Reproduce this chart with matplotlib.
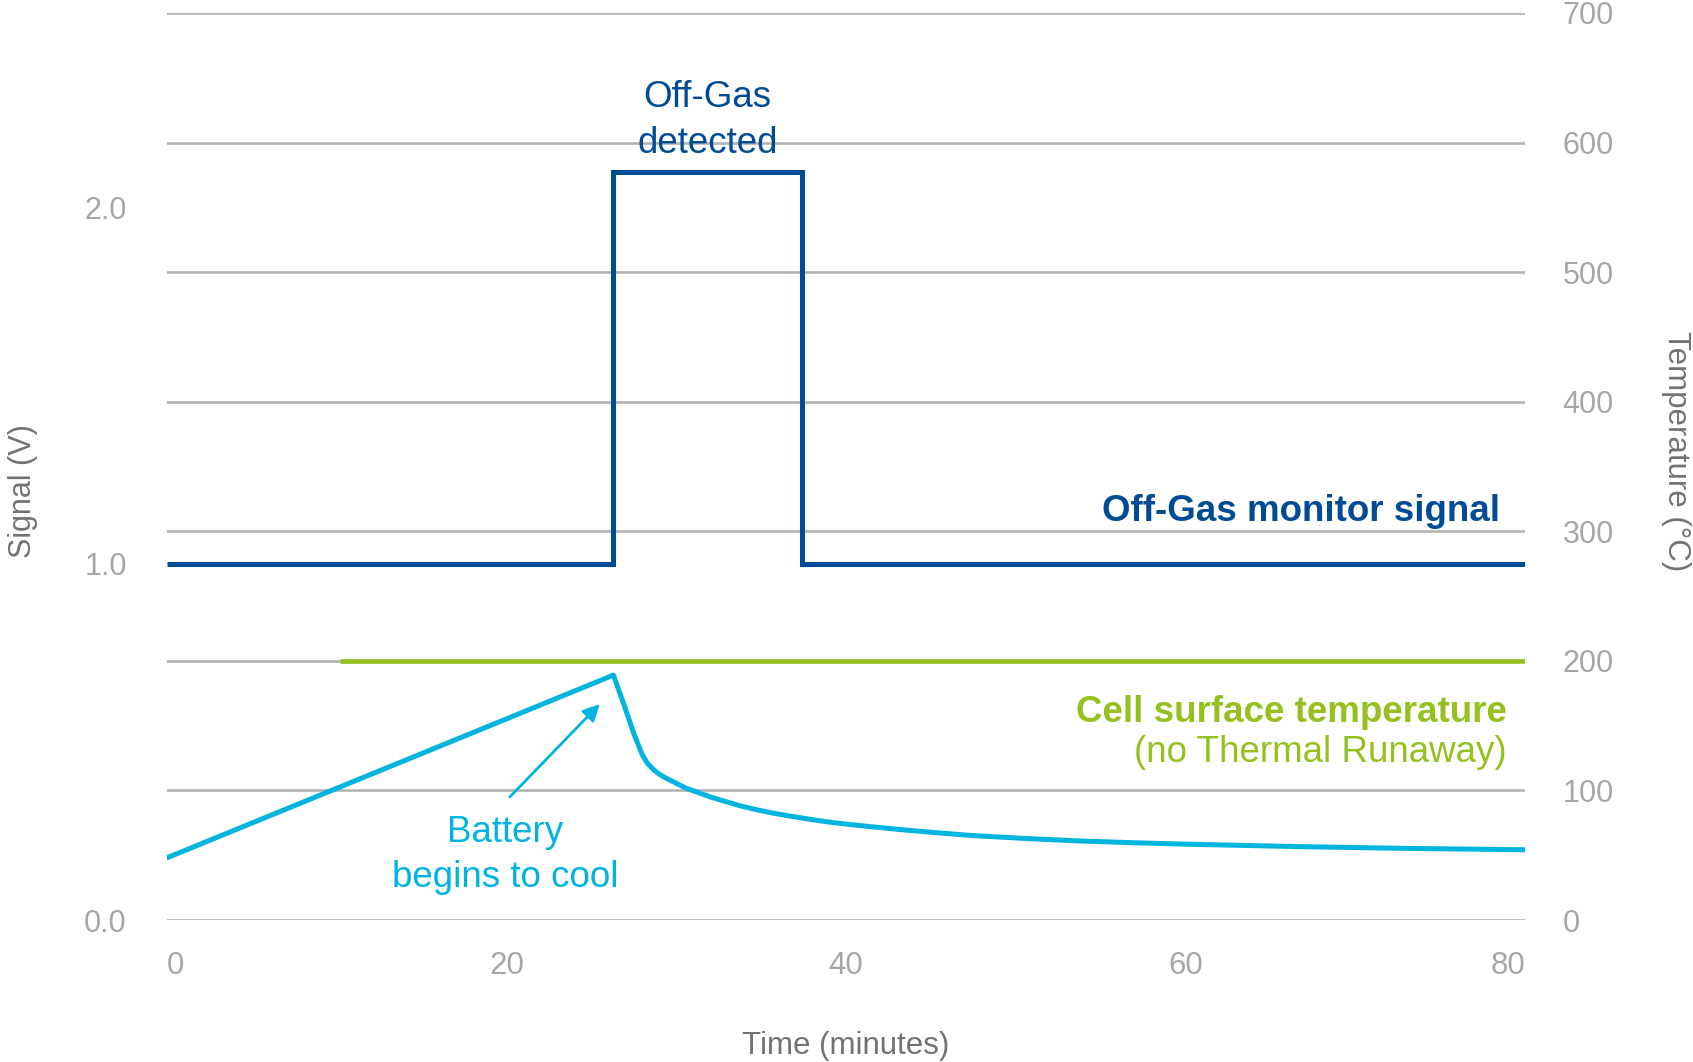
import numpy as np
import matplotlib.pyplot as plt

plt.rcParams['font.family'] = ['Liberation Sans', 'DejaVu Sans']

# Off-gas monitor signal (V), step trace
signal_time = [0, 26.3, 37.4, 80]
signal_volts = [1.0, 2.1, 1.0, 1.0]

# Cell surface temperature (no thermal runaway), degC
surface_time = [10.2, 80]
surface_temp = [200, 200]

# Battery temperature, degC
battery_time = [0, 26.3, 26.9, 27.5, 28.0, 28.3, 28.65, 29.0, 29.4, 30.6,
                32.0, 33.8, 34.7, 35.7, 36.7, 37.7, 38.6, 39.6, 41.4, 43.2,
                45.3, 47.4, 50.6, 53.8, 57.0, 60.1, 66.5, 72.8, 80]
battery_temp = [48, 189, 167, 144, 127.5, 121, 116.2, 112.5, 109.5, 101.6,
                95, 88, 85.2, 82.5, 80.2, 78.1, 76.3, 74.6, 72.1, 69.8,
                67.4, 65.2, 62.9, 61, 59.6, 58.5, 56.7, 55.3, 54.2]

x_ticks = [0, 20, 40, 60, 80]
signal_ticks = [0.0, 1.0, 2.0]
temp_ticks = [0, 100, 200, 300, 400, 500, 600, 700]

BLUE = '#004B93'
CYAN = '#00B4E0'
GREEN = '#95C11F'
GRID = '#B3B3B3'
TICK = '#A6A6A6'
LABEL = '#767171'

fig = plt.figure(figsize=(16.93, 10.62), dpi=100)
ax = fig.add_axes([0.0986, 0.1337, 0.8022, 0.8541])
ax2 = ax.twinx()

# signal axis on top so the blue trace covers the grid
ax.set_zorder(ax2.get_zorder() + 1)
ax.patch.set_visible(False)

ax.plot(signal_time, signal_volts, drawstyle='steps-post', color=BLUE,
        lw=3.6, solid_joinstyle='miter', solid_capstyle='butt')
ax2.plot(surface_time, surface_temp, color=GREEN, lw=3.4,
         solid_capstyle='butt', zorder=3)
ax2.plot(battery_time, battery_temp, color=CYAN, lw=3.6,
         solid_joinstyle='round', zorder=3)

ax.set_xlim(0, 80)
ax.set_ylim(0, 2.545)
ax2.set_ylim(0, 700)

# grid from temperature axis
ax2.set_yticks(temp_ticks)
ax2.yaxis.grid(True, color=GRID, lw=1.9)
ax2.set_axisbelow(True)
ax.set_yticks(signal_ticks)
ax.set_yticklabels([f'{v:.1f}' for v in signal_ticks])
ax.set_xticks(x_ticks)
ax.set_xticklabels([str(t) for t in x_ticks])

for a in (ax, ax2):
    for s in a.spines.values():
        s.set_visible(False)
    a.tick_params(length=0, colors=TICK, labelsize=22)
ax.tick_params(axis='y', pad=29)
ax.tick_params(axis='x', pad=22, labelsize=22.5)
ax2.tick_params(axis='y', pad=27)
ax2.tick_params(axis='x', bottom=False, labelbottom=False)

xlabels = ax.get_xticklabels()
xlabels[0].set_ha('left')
xlabels[-1].set_ha('right')

ax.set_xlabel('Time (minutes)', fontsize=22.5, color=LABEL)
ax.xaxis.set_label_coords(0.4996, -0.139)
ax.xaxis.label.set_va('center')
ax.set_ylabel('Signal (V)', fontsize=22, color=LABEL)
ax.yaxis.set_label_coords(-0.106, 0.473)
ax.yaxis.label.set_va('center')
ax2.set_ylabel('Temperature (°C)', fontsize=22.5, color=LABEL, rotation=270)
ax2.yaxis.set_label_coords(1.111, 0.517)
ax2.yaxis.label.set_va('center')

# annotations
ANN = 26.5
ax2.text(31.85, 617, 'Off-Gas\ndetected', color=BLUE, fontsize=ANN,
         ha='center', va='center', linespacing=1.38)
ax2.text(78.5, 315.5, 'Off-Gas monitor signal', color=BLUE, fontsize=ANN,
         fontweight='bold', ha='right', va='center')
ax2.text(78.9, 160, 'Cell surface temperature', color=GREEN, fontsize=ANN,
         fontweight='bold', ha='right', va='center')
ax2.text(78.9, 129, '(no Thermal Runaway)', color=GREEN, fontsize=ANN,
         ha='right', va='center')
ax2.text(19.9, 50, 'Battery\nbegins to cool', color=CYAN, fontsize=ANN,
         ha='center', va='center', linespacing=1.38)
ax2.annotate('', xy=(25.5, 166.7), xytext=(20.2, 95),
             arrowprops=dict(arrowstyle='-|>', color=CYAN, lw=2,
                             mutation_scale=25, shrinkA=0, shrinkB=0))

fig.savefig('out.png', dpi=100)
